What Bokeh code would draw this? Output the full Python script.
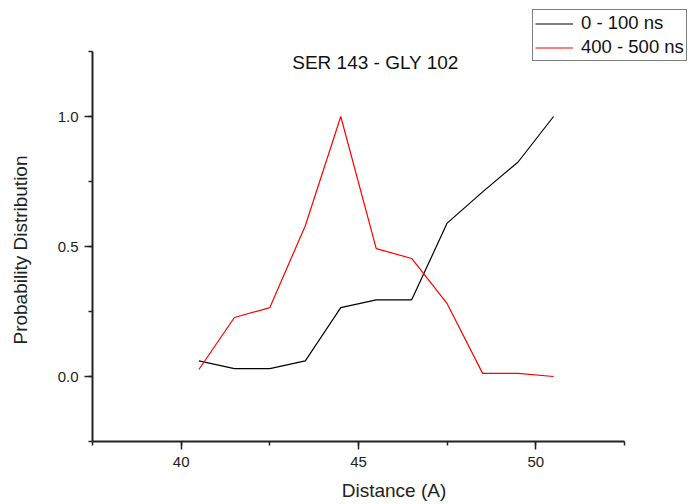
from bokeh.plotting import figure
from bokeh.models import (Range1d, SingleIntervalTicker, Legend, LegendItem, Label,
                          NumeralTickFormatter)
from bokeh.embed import file_html
from bokeh.resources import INLINE

distance = [40.5, 41.5, 42.5, 43.5, 44.5, 45.5, 46.5, 47.5, 48.5, 49.5, 50.5]
series_0_100 = [0.06, 0.03, 0.03, 0.06, 0.265, 0.295, 0.295, 0.59, 0.71, 0.825, 1.0]
series_400_500 = [0.027, 0.227, 0.265, 0.58, 1.0, 0.492, 0.454, 0.28, 0.012, 0.012, 0.0]
labels = ["0 - 100 ns", "400 - 500 ns"]
title_text = "SER 143 - GLY 102"
x_label = "Distance (A)"
y_label = "Probability Distribution"

FONT = "Liberation Sans"

# axis extents (drawn as bounded axes); frame extends to the canvas edges
X0, X1 = 37.5, 52.5
Y0, Y1 = -0.25, 1.25
LEFT, BOTTOM, W, H = 92, 63, 695, 504
AX_RIGHT_PX, AX_TOP_PX = 624, 51
x_scale = (AX_RIGHT_PX - LEFT) / (X1 - X0)
y_scale = (H - BOTTOM - AX_TOP_PX) / (Y1 - Y0)
x_end = X0 + (W - LEFT) / x_scale
y_end = Y0 + (H - BOTTOM) / y_scale

p = figure(width=W, height=H, output_backend="svg", toolbar_location=None,
           x_range=Range1d(X0, x_end), y_range=Range1d(Y0, y_end),
           min_border_left=LEFT, min_border_right=0, min_border_top=0,
           min_border_bottom=BOTTOM)
p.outline_line_color = None
p.xgrid.visible = False
p.ygrid.visible = False
p.background_fill_color = "white"
p.border_fill_color = "white"

r1 = p.line(distance, series_0_100, line_color="black", line_width=1.2)
r2 = p.line(distance, series_400_500, line_color="#ff0000", line_width=1.2)

xa = p.xaxis[0]
xa.ticker = SingleIntervalTicker(interval=5, num_minor_ticks=2)
xa.bounds = (X0, X1)
ya = p.yaxis[0]
ya.ticker = SingleIntervalTicker(interval=0.5, num_minor_ticks=2)
ya.formatter = NumeralTickFormatter(format="0.0")
ya.bounds = (Y0, Y1)

for ax in (xa, ya):
    ax.axis_line_width = 2
    ax.axis_line_color = "#222222"
    ax.major_tick_line_color = "#222222"
    ax.minor_tick_line_color = "#222222"
    ax.major_tick_line_width = 1.5
    ax.minor_tick_line_width = 1.5
    ax.major_tick_out = 8
    ax.major_tick_in = 0
    ax.minor_tick_out = 4
    ax.minor_tick_in = 0
    ax.major_label_text_font = FONT
    ax.major_label_text_font_size = "15px"
    ax.major_label_text_color = "#222222"
    ax.axis_label_text_font = FONT
    ax.axis_label_text_font_size = "19px"
    ax.axis_label_text_font_style = "normal"
    ax.axis_label_text_color = "#222222"

xa.axis_label = x_label
xa.major_label_standoff = 7
xa.axis_label_standoff = 10
ya.major_label_standoff = 6
# trailing no-break spaces shift the visible label down so that it is centred
# on the bounded axis rather than on the extended frame
ya.axis_label = y_label + "\u00a0" * 11
ya.axis_label_standoff = 24

p.add_layout(Label(x=375 - LEFT, y=(H - BOTTOM) - 62, x_units="screen", y_units="screen",
                   text=title_text, text_font=FONT, text_font_size="19px",
                   text_align="center", text_baseline="middle", text_color="#111111"))

legend = Legend(items=[LegendItem(label=labels[0], renderers=[r1]),
                       LegendItem(label=labels[1], renderers=[r2])],
                location=(532 - LEFT, (H - BOTTOM) - 61), orientation="vertical",
                label_text_font=FONT, label_text_font_size="18.5px",
                label_text_color="#111111",
                glyph_width=38, glyph_height=21, label_height=21,
                spacing=2, padding=2, margin=0, label_standoff=8,
                border_line_color="black", border_line_width=1,
                background_fill_color="white", background_fill_alpha=1.0)
p.add_layout(legend)

open("out.html", "w").write(file_html(p, INLINE))
